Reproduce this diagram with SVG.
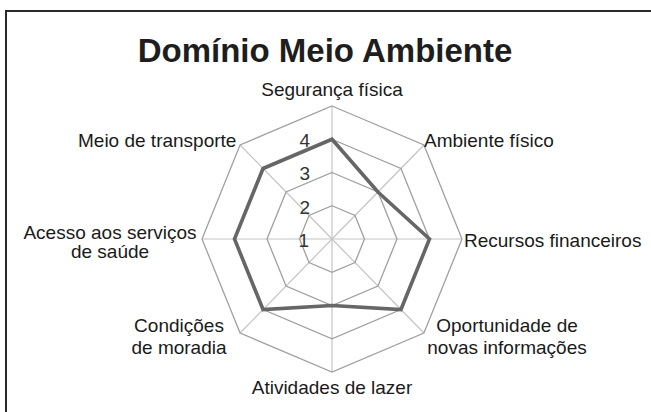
<svg xmlns="http://www.w3.org/2000/svg" width="651" height="412" viewBox="0 0 651 412">
<style>
.frame{fill:#fff;stroke:#2a2a2a;stroke-width:2}
.spoke{stroke:#c4c4c4;stroke-width:1.2;fill:none}
.ring{stroke:#a0a0a0;stroke-width:1.3;fill:none}
.data{stroke:#666;stroke-width:3.6;fill:none;stroke-linejoin:miter}
.title{font-family:"Liberation Sans",Arial,sans-serif;font-weight:bold;font-size:33px;fill:#1e1e1e;text-anchor:middle}
.lbl{font-family:"Liberation Sans",Arial,sans-serif;font-size:19px;fill:#1a1a1a}
.tick{font-family:"Liberation Sans",Arial,sans-serif;font-size:19px;fill:#333;text-anchor:end}
.mid{text-anchor:middle}
</style>
<rect class="frame" x="6" y="11" width="700" height="500"/>
<text class="title" x="325" y="62">Domínio Meio Ambiente</text>
<g id="grid">
<g id="spokes">
<line class="spoke" x1="332" y1="239" x2="332" y2="106"/>
<line class="spoke" x1="332" y1="239" x2="423.92" y2="144.96"/>
<line class="spoke" x1="332" y1="239" x2="462" y2="239"/>
<line class="spoke" x1="332" y1="239" x2="423.92" y2="333.04"/>
<line class="spoke" x1="332" y1="239" x2="332" y2="372"/>
<line class="spoke" x1="332" y1="239" x2="240.08" y2="333.04"/>
<line class="spoke" x1="332" y1="239" x2="202" y2="239"/>
<line class="spoke" x1="332" y1="239" x2="240.08" y2="144.96"/>
</g>
<polygon class="ring" points="332,205.75 354.98,215.49 364.5,239 354.98,262.51 332,272.25 309.02,262.51 299.5,239 309.02,215.49"/>
<polygon class="ring" points="332,172.5 377.96,191.98 397,239 377.96,286.02 332,305.5 286.04,286.02 267,239 286.04,191.98"/>
<polygon class="ring" points="332,139.25 400.94,168.47 429.5,239 400.94,309.53 332,338.75 263.06,309.53 234.5,239 263.06,168.47"/>
<polygon class="ring" points="332,106 423.92,144.96 462,239 423.92,333.04 332,372 240.08,333.04 202,239 240.08,144.96"/>
</g>
<g id="ticks">
<text class="tick" x="310" y="147">4</text>
<text class="tick" x="310" y="180">3</text>
<text class="tick" x="310" y="213.5">2</text>
<text class="tick" x="309" y="246.5">1</text>
</g>
<g id="series">
<polygon class="data" points="332,139.25 377.96,191.98 429.5,239 400.94,309.53 332,305.5 263.06,309.53 234.5,239 263.06,168.47"/>
</g>
<g id="labels">
<g id="seguranca"><text class="lbl mid" x="332" y="96">Segurança física</text></g>
<g id="ambiente"><text class="lbl" x="424" y="147">Ambiente físico</text></g>
<g id="recursos"><text class="lbl" x="464" y="247">Recursos financeiros</text></g>
<g id="oportunidade"><text class="lbl mid" x="507" y="332">Oportunidade de</text><text class="lbl mid" x="507" y="354">novas informações</text></g>
<g id="atividades"><text class="lbl mid" x="332" y="394">Atividades de lazer</text></g>
<g id="condicoes"><text class="lbl mid" x="179" y="332">Condições</text><text class="lbl mid" x="179" y="354">de moradia</text></g>
<g id="acesso"><text class="lbl mid" x="110" y="239">Acesso aos serviços</text><text class="lbl mid" x="110" y="258">de saúde</text></g>
<g id="transporte"><text class="lbl" x="78" y="147">Meio de transporte</text></g>
</g>
</svg>
